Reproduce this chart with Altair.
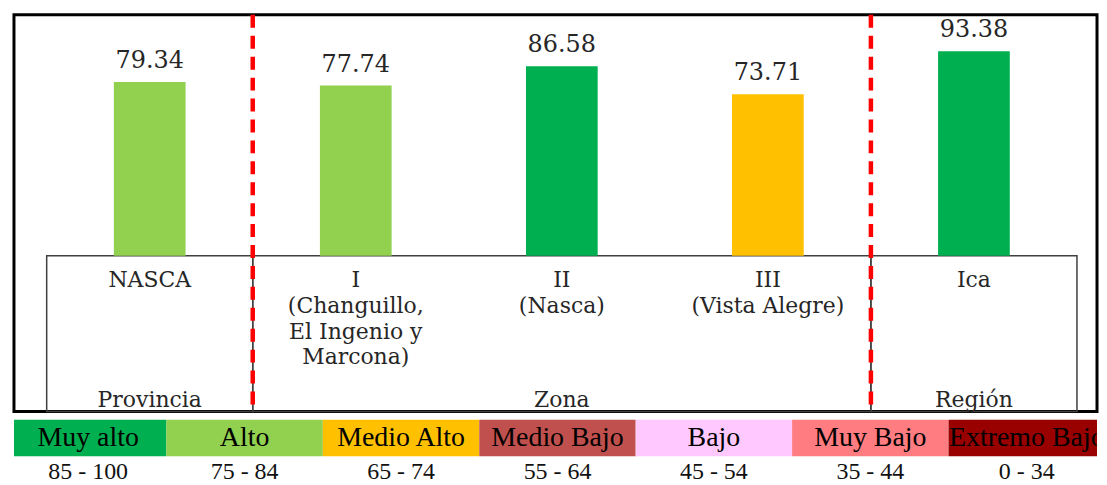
import altair as alt
import pandas as pd

# ---------------- data ----------------
categorias = ["NASCA", "I", "II", "III", "Ica"]
etiquetas = ["NASCA", "I\n(Changuillo,\nEl Ingenio y\nMarcona)", "II\n(Nasca)",
             "III\n(Vista Alegre)", "Ica"]
valores = [79.34, 77.74, 86.58, 73.71, 93.38]
grupos = ["Provincia", "Zona", "Zona", "Zona", "Región"]

niveles = ["Muy alto", "Alto", "Medio Alto", "Medio Bajo", "Bajo", "Muy Bajo", "Extremo Bajo"]
rangos = ["85 - 100", "75 - 84", "65 - 74", "55 - 64", "45 - 54", "35 - 44", "0 - 34"]
limites = [35, 45, 55, 65, 75, 85]
colores = ["#00B050", "#92D050", "#FFC000", "#C0504D", "#FFC9FF", "#FF7C80", "#990000"]

# ---------------- tables ----------------
df = pd.DataFrame({"cat": categorias, "etiqueta": etiquetas, "valor": valores, "grupo": grupos})

filas = []
for gr in dict.fromkeys(grupos):
    cs = [c for c, g in zip(categorias, grupos) if g == gr]
    filas.append({"grupo": gr, "inicio": cs[0], "fin": cs[-1], "centro": cs[len(cs) // 2]})
dg = pd.DataFrame(filas)

dl = pd.DataFrame({"nivel": niveles, "rango": rangos, "color": colores})

# ---------------- styles ----------------
W1, H1 = 1087, 398
W2, H2 = 1087, 74
Y_MIN, Y_MAX = -71, 110
SERIF = "DejaVu Serif"
TXT = "#262626"

xs = alt.Scale(domain=categorias, paddingInner=0, paddingOuter=0.128, align=0.62)
ys = alt.Scale(domain=[Y_MIN, Y_MAX], nice=False, zero=False)

base = alt.Chart(df)

caja = alt.Chart(dg).mark_rect(fill="transparent", stroke="#404040", strokeWidth=1.5).encode(
    x=alt.X("inicio:N", bandPosition=0, scale=xs, axis=None),
    x2=alt.X2("fin", bandPosition=1),
    y=alt.datum(0, scale=ys, axis=None),
    y2=alt.datum(Y_MIN),
)

barras = base.mark_bar(width=alt.RelativeBandSize(0.348)).encode(
    x=alt.X("cat:N", scale=xs, axis=None),
    y=alt.Y("valor:Q", scale=ys, axis=None),
    color=alt.Color("valor:Q", legend=None,
                    scale=alt.Scale(type="threshold", domain=limites, range=colores[::-1])),
)

valores_txt = base.mark_text(font=SERIF, fontSize=24, color=TXT, baseline="alphabetic", dy=-14).encode(
    x=alt.X("cat:N", scale=xs, axis=None),
    y=alt.Y("valor:Q", scale=ys, axis=None),
    text=alt.Text("valor:Q", format=".2f"),
)

cat_txt = base.mark_text(font=SERIF, fontSize=22, color=TXT, baseline="top",
                         lineBreak="\n", lineHeight=26, dy=14).encode(
    x=alt.X("cat:N", scale=xs, axis=None),
    y=alt.datum(0),
    text="etiqueta:N",
)

grupo_txt = alt.Chart(dg).mark_text(font=SERIF, fontSize=22, color=TXT,
                                    baseline="alphabetic", dy=-4).encode(
    x=alt.X("centro:N", scale=xs, axis=None),
    y=alt.datum(Y_MIN),
    text="grupo:N",
)

divisiones = alt.Chart(dg).transform_filter(
    alt.datum.grupo != grupos[0]
).mark_rule(color="#FF0000", strokeWidth=4.5, strokeDash=[13, 8]).encode(
    x=alt.X("inicio:N", bandPosition=0, scale=xs, axis=None),
    y=alt.datum(Y_MAX),
    y2=alt.datum(Y_MIN),
)

panel1 = alt.layer(caja, barras, valores_txt, cat_txt, grupo_txt, divisiones).properties(
    width=W1, height=H1,
    view=alt.ViewBackground(stroke="black", strokeWidth=3, fill="white"),
)

# ---------------- legend strip ----------------
lx = alt.Scale(domain=niveles, paddingInner=0, paddingOuter=0, range=[-4, W1 + 8])
ly = alt.Scale(domain=["nivel", "rango"], paddingInner=0, paddingOuter=0)
lbase = alt.Chart(dl)

celdas = lbase.transform_calculate(fila="'nivel'").mark_rect(clip=True).encode(
    x=alt.X("nivel:N", scale=lx, axis=None),
    y=alt.Y("fila:N", scale=ly, axis=None),
    color=alt.Color("nivel:N", scale=alt.Scale(domain=niveles, range=colores), legend=None),
)
celdas_txt = lbase.transform_calculate(fila="'nivel'").mark_text(
    font="Liberation Serif", fontSize=28, color="black", clip=True).encode(
    x=alt.X("nivel:N", scale=lx, axis=None),
    y=alt.Y("fila:N", scale=ly, axis=None),
    text="nivel:N",
)
rangos_txt = lbase.transform_calculate(fila="'rango'").mark_text(
    font="Liberation Serif", fontSize=24, color="#111111", dy=-3).encode(
    x=alt.X("nivel:N", scale=lx, axis=None),
    y=alt.Y("fila:N", scale=ly, axis=None),
    text="rango:N",
)

panel2 = alt.layer(celdas, celdas_txt, rangos_txt).properties(width=W2, height=H2)

chart = alt.vconcat(panel1, panel2, spacing=4).resolve_scale(
    x="independent", y="independent", color="independent"
).properties(
    padding={"left": 4, "top": 2, "right": 0, "bottom": 0},
    background="white",
).configure_view(stroke=None)

chart.save("out.html", embed_options={"renderer": "svg", "actions": False})
